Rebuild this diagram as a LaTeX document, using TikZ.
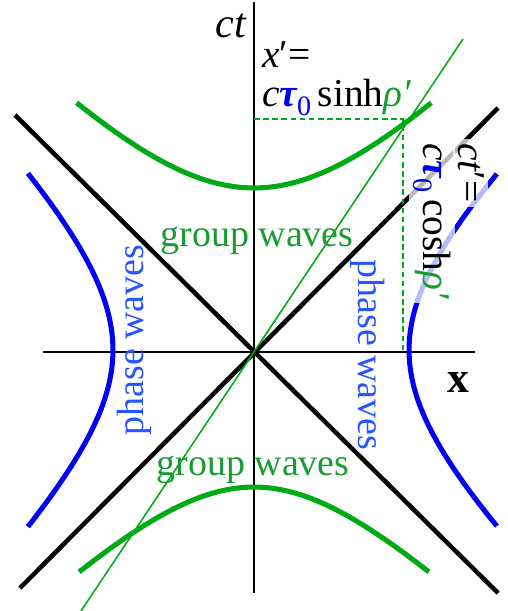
\documentclass[tikz,border=0pt]{standalone}
\usepackage{fontspec}
\setmainfont{Liberation Serif}
\usepackage{xcolor}
\usepackage{tikz}
\usetikzlibrary{positioning,calc}
\definecolor{cgreen}{RGB}{0,170,20}
\definecolor{ctxtgreen}{RGB}{25,155,50}
\definecolor{cblue}{RGB}{0,0,245}
\definecolor{ctxtblue}{RGB}{40,85,255}
\newcommand{\tauzero}{{\color{cblue}\bfseries\itshape τ}\raisebox{-7pt}{\fontsize{20}{20}\selectfont\color{cblue}0}}

\begin{document}
\begin{tikzpicture}[
    x=0.025cm,
    y=-0.025cm,
    axis/.style={
        line width=1.4pt,
        draw=black
    },
    cone/.style={
        line width=3.2pt,
        draw=black
    },
    gwave/.style={
        line width=3.6pt,
        draw=cgreen
    },
    pwave/.style={
        line width=3.6pt,
        draw=cblue
    },
    worldline/.style={
        line width=1.1pt,
        draw=cgreen
    },
    proj/.style={
        line width=1.4pt,
        draw=cgreen,
        dash pattern=on 4pt off 2.5pt
    },
    lbl/.style={
        font=\fontsize{28}{25}\selectfont,
        inner sep=0pt
    },
    veil/.style={
        lbl,
        rotate=-90,
        anchor=base west,
        fill=white,
        fill opacity=0.72,
        text opacity=1,
        inner sep=3pt
    },
    wavelbl/.style={
        font=\fontsize{27}{27}\selectfont,
        inner sep=0pt,
        text=#1
    }
]

\useasboundingbox (0,0) rectangle (507,611);

% Axes
\coordinate (O) at (254,352);
\draw[axis] (254,2) -- (254,593);
\draw[axis] (43,352) -- (475,352);

% Light cone
\draw[cone] (15,115) -- (498,593);
\draw[cone] (498,108) -- (20,588);

% Phase waves (space-like hyperbolas)
\draw[pwave] plot[domain=-1.05:1.05, samples=40] ({254-141*cosh(\x)}, {350-141*sinh(\x)});
\draw[pwave] plot[domain=-1.02:1.02, samples=40] ({254+155*cosh(\x)}, {350-146*sinh(\x)});

% Group waves (time-like hyperbolas)
\draw[gwave] plot[domain=-0.98:0.98, samples=40] ({254+155*sinh(\x)}, {352-164*cosh(\x)});
\draw[gwave] plot[domain=-1.07:1.07, samples=40] ({254+136*sinh(\x)}, {352+135*cosh(\x)});

% World line of the moving frame
\draw[worldline] (81,611) -- (463,39);

% Projections of the event
\coordinate (P) at (403,119);
\draw[proj] (P -| O) -- (P) -- (P |- O);

% Axis labels
\node[font=\fontsize{30}{30}\selectfont\itshape, inner sep=0pt, anchor=base east] (ctlab) at (246,38) {ct};
\node[font=\fontsize{31}{31}\selectfont\bfseries, inner sep=0pt, anchor=base] (xaxlab) at (458,392) {x};

% Coordinates of the event
\node[lbl, anchor=base west] (xlab) at (262,68) {{\itshape x}′=};
\node[lbl, anchor=base west] (xval) at (262,106) {{\itshape c}\tauzero\,sinh{\color{ctxtgreen}\itshape ρ′}};
\node[veil] (tlab) at (458,139) {{\itshape ct}′=};
\node[veil] (tval) at (423,139) {{\itshape c}\tauzero\,cosh{\color{ctxtgreen}\itshape ρ′}};

% Wave labels
\node[wavelbl=ctxtgreen, anchor=base] (gwup) at (257,246) {group waves};
\node[wavelbl=ctxtgreen, anchor=base] (gwdown) at (253,475) {group waves};
\node[wavelbl=ctxtblue, rotate=90, anchor=base] (pwleft) at (143,340) {phase waves};
\node[wavelbl=ctxtblue, rotate=-90, anchor=base] (pwright) at (358,355) {phase waves};

\end{tikzpicture}
\end{document}
